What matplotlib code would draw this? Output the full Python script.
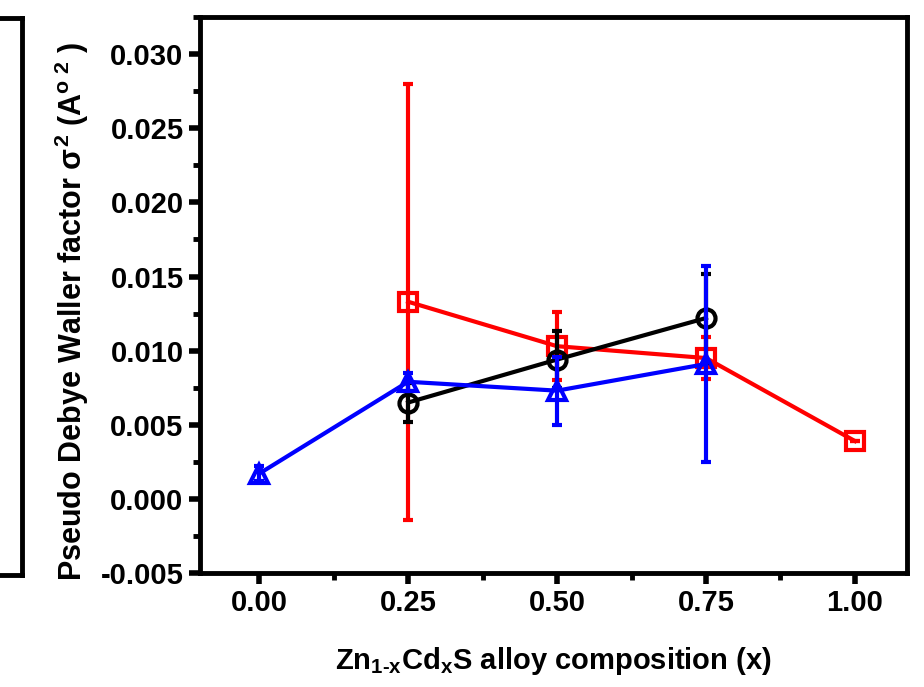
import numpy as np
import matplotlib.pyplot as plt
from matplotlib.ticker import MultipleLocator

plt.rcParams['font.family'] = ['Liberation Sans', 'DejaVu Sans']
plt.rcParams['font.weight'] = 'bold'
plt.rcParams['mathtext.fontset'] = 'custom'
plt.rcParams['mathtext.rm'] = 'Liberation Sans:bold'
plt.rcParams['mathtext.it'] = 'Liberation Sans:bold'
plt.rcParams['mathtext.bf'] = 'Liberation Sans:bold'

# data
x_black = [0.25, 0.50, 0.75]
y_black = [0.0065, 0.0094, 0.0122]
e_black = [0.0013, 0.0019, 0.0030]

x_red = [0.25, 0.50, 0.75, 1.00]
y_red = [0.0133, 0.0103, 0.0095, 0.0039]
e_red = [0.0147, 0.0023, 0.0014, 0.0]

x_blue = [0.00, 0.25, 0.50, 0.75]
y_blue = [0.0017, 0.0079, 0.0073, 0.0091]
e_blue = [0.0005, 0.0006, 0.0023, 0.0066]

xticks = [0.00, 0.25, 0.50, 0.75, 1.00]
yticks = [-0.005, 0.000, 0.005, 0.010, 0.015, 0.020, 0.025, 0.030]

fig = plt.figure(figsize=(9.24, 6.87), dpi=100)

# cut-off neighbouring panel at the left edge
ax0 = fig.add_axes([-0.5, 0.163, 0.524, 0.811])
ax0.set_xticks([])
ax0.set_yticks([])
for s in ax0.spines.values():
    s.set_linewidth(3.5)

ax = fig.add_axes([0.216, 0.166, 0.766, 0.809])

kw = dict(mfc='none', ms=13, mew=3, lw=3, capsize=3.5, capthick=3.5, elinewidth=3)
ax.errorbar(x_red, y_red, yerr=e_red, color='red', marker='s', zorder=2, **kw)
ax.errorbar(x_black, y_black, yerr=e_black, color='black', marker='o', zorder=3, **kw)
ax.errorbar(x_blue, y_blue, yerr=e_blue, color='blue', marker='^', zorder=4, **kw)

ax.set_xlim(-0.1, 1.088)
ax.set_ylim(-0.005, 0.0325)
ax.set_xticks(xticks)
ax.set_yticks(yticks)
ax.set_xticklabels(['%.2f' % v for v in xticks])
ax.set_yticklabels(['%.3f' % v for v in yticks])
ax.xaxis.set_minor_locator(MultipleLocator(0.125))
ax.yaxis.set_minor_locator(MultipleLocator(0.0025))
ax.tick_params(which='major', direction='out', length=8, width=4, labelsize=21, top=False, right=False)
ax.tick_params(which='minor', direction='out', length=5, width=3.5, top=False, right=False)
for s in ax.spines.values():
    s.set_linewidth(3.5)

ax.set_xlabel(r'Zn$_{1\text{-}x}$Cd$_x$S alloy composition (x)', fontsize=21, fontweight='bold', labelpad=20)
ax.set_ylabel(r'Pseudo Debye Waller factor $\sigma^2$ (A$^{\mathrm{o}\ 2}$ )', fontsize=22, fontweight='bold')
ax.yaxis.set_label_coords(-0.153, 0.47)

fig.savefig('out.png', dpi=100)
